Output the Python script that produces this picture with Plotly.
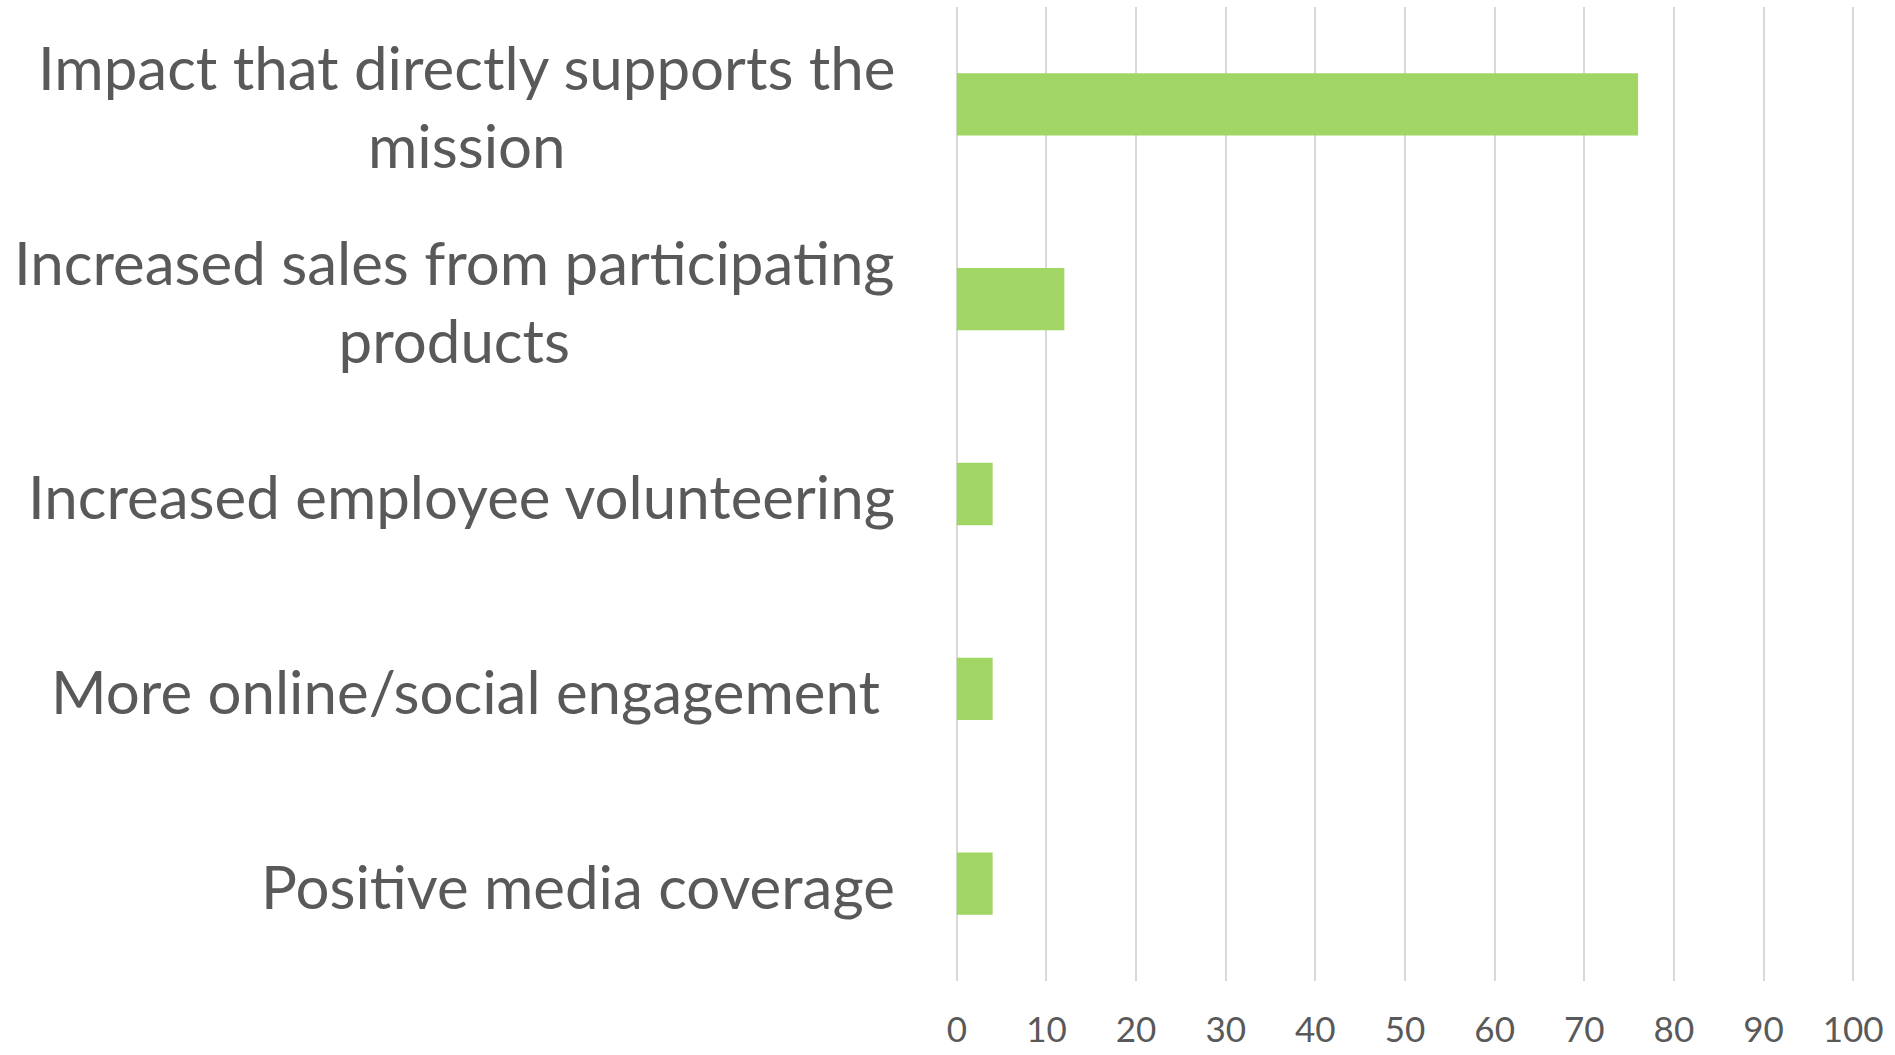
import plotly.graph_objects as go

categories = [
    "Impact that directly supports the<br>mission",
    "Increased sales from participating<br>products",
    "Increased employee volunteering",
    "More online/social engagement ",
    "Positive media coverage",
]
values = [76, 12, 4, 4, 4]
x_ticks = [0, 10, 20, 30, 40, 50, 60, 70, 80, 90, 100]

TEXT = "#595959"
BAR = "#A1D564"
GRID = "#D9D9D9"
FONT = "Lato"

ids = list(range(len(categories)))

fig = go.Figure()
fig.add_trace(go.Bar(
    x=values, y=ids, orientation="h",
    marker=dict(color=BAR, line=dict(width=0)),
    hoverinfo="x",
))

for i, c in zip(ids, categories):
    fig.add_annotation(
        x=0, xref="paper", xanchor="right", xshift=-58,
        y=i, yref="y", yanchor="middle", yshift=-2,
        text=c, align="center", showarrow=False,
        font=dict(family=FONT, size=60, color=TEXT),
    )

fig.update_layout(
    width=1895, height=1055,
    margin=dict(l=955, r=40, t=7, b=74),
    paper_bgcolor="white", plot_bgcolor="white",
    bargap=0.68,
    showlegend=False,
    font=dict(family=FONT, color=TEXT),
)
fig.update_xaxes(
    range=[-0.2, 100.2], tickvals=x_ticks, ticktext=[str(v) for v in x_ticks],
    showgrid=True, gridcolor=GRID, gridwidth=2,
    zeroline=False, showline=False, ticks="",
    tickfont=dict(family=FONT, size=35, color=TEXT),
    ticklabelstandoff=25, automargin=False,
)
fig.update_yaxes(
    range=[len(categories) - 0.5, -0.5],
    showticklabels=False, showgrid=False, zeroline=False, showline=False,
    automargin=False,
)

fig.write_html("out.html")
